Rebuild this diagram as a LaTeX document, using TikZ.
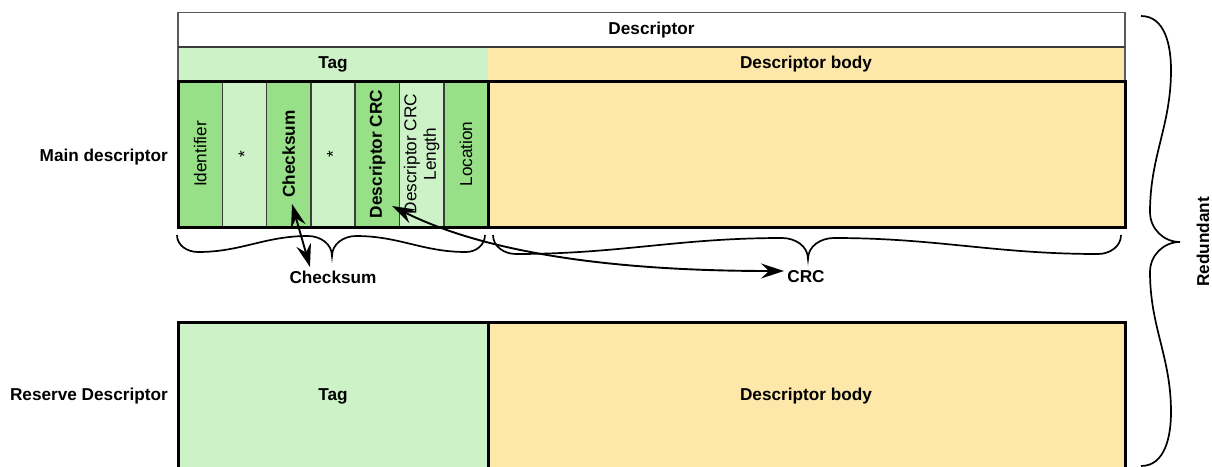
\documentclass[tikz,border=0pt]{standalone}
\usepackage{fontspec}
\setmainfont{Liberation Sans}
\usetikzlibrary{arrows.meta}

\definecolor{tagfill}{RGB}{205,242,200}
\definecolor{fieldfill}{RGB}{151,224,136}
\definecolor{bodyfill}{RGB}{253,232,170}
\definecolor{rule}{RGB}{60,60,60}

\tikzset{
  txt/.style={font=\fontsize{17.2}{19.5}\selectfont, inner sep=0pt, align=center},
  bold/.style={txt, font=\fontsize{17.2}{19.5}\selectfont\bfseries},
  cell/.style={draw=rule, line width=1.5pt, rotate=90, minimum width=146pt,
    minimum height=44.3pt, inner sep=0pt, align=center, anchor=center,
    font=\fontsize{17.2}{19.5}\selectfont},
  heavy/.style={draw=black, line width=3pt},
  curly/.style={draw=black, line width=1.7pt},
  link/.style={draw=black, line width=1.9pt,
    {Stealth[length=23pt,width=15pt,inset=8pt]}-{Stealth[length=23pt,width=15pt,inset=8pt]}}
}

\begin{document}
\begin{tikzpicture}[x=1pt,y=-1pt]
\useasboundingbox (0,0) rectangle (1212,466);

% header: title row and tag/body row
\fill[tagfill] (178,47) rectangle (488,81);
\fill[bodyfill] (488,47) rectangle (1125,81);
\draw[gray!70!black, line width=1.2pt] (178,81) -- (178,12.5) -- (1125,12.5) -- (1125,81);
\draw[rule, line width=1.5pt] (178,47) -- (1125,47);
\node[bold] (hdr) at (651.5,30) {Descriptor};
\node[bold] (hdrtag) at (333,64) {Tag};
\node[bold] (hdrbody) at (806,64) {Descriptor body};

% main descriptor: tag fields and body
\node[cell, fill=fieldfill] (f1) at (200.15,154) {Identifier};
\node[cell, fill=tagfill]   (f2) at (244.45,154) {*};
\node[cell, fill=fieldfill, font=\fontsize{17.2}{19.5}\selectfont\bfseries] (f3) at (288.75,154) {Checksum};
\node[cell, fill=tagfill]   (f4) at (333.05,154) {*};
\node[cell, fill=fieldfill, font=\fontsize{17.2}{19.5}\selectfont\bfseries] (f5) at (377.35,154) {Descriptor CRC};
\node[cell, fill=tagfill]   (f6) at (421.65,154) {Descriptor CRC\\Length};
\node[cell, fill=fieldfill] (f7) at (465.95,154) {Location};
\fill[bodyfill] (488,81) rectangle (1125,227);
\draw[heavy] (178,81) rectangle (1125,227);
\draw[heavy] (488,81) -- (488,227);
\node[bold, anchor=east] (mainlbl) at (168,157) {Main descriptor};

% reserve descriptor
\fill[tagfill] (178,322) rectangle (488,480);
\fill[bodyfill] (488,322) rectangle (1125,480);
\draw[heavy] (178,480) -- (178,322) -- (1125,322) -- (1125,480);
\draw[heavy] (488,322) -- (488,480);
\node[bold] (restag) at (333,396) {Tag};
\node[bold] (resbody) at (806,396) {Descriptor body};
\node[bold, anchor=east] (reslbl) at (168,396) {Reserve Descriptor};

% braces
\draw[curly] (177,235) to[out=-90,in=180] (198,252) to[out=0,in=180] (308,236)
  to[out=0,in=90] (332,256) to[out=90,in=180] (356,236) to[out=0,in=180] (466,252)
  to[out=0,in=-90] (485,235);
\draw[curly] (493,235) to[out=-90,in=180] (516,254) to[out=0,in=180] (782,238)
  to[out=0,in=90] (808,259) to[out=90,in=180] (834,238) to[out=0,in=180] (1098,254)
  to[out=0,in=-90] (1121,235);
\draw[curly] (1141,16) to[out=0,in=90] (1171,70) to[out=-90,in=90] (1150,212)
  to[out=-90,in=180] (1180,242) to[out=180,in=90] (1150,272) to[out=-90,in=90] (1171,412)
  to[out=-90,in=0] (1141,466);

% brace captions
\node[bold] (cklbl) at (333,277) {Checksum};
\node[bold] (crclbl) at (806,277) {CRC};
\node[bold, rotate=90] (redlbl) at (1203,242) {Redundant};

% links from fields to their coverage
\coordinate (ckfield) at (292,204);
\coordinate (ckcap) at (310,267);
\coordinate (crcfield) at (392,206);
\coordinate (crccap) at (784,271);
\draw[link] (ckfield) -- (ckcap);
\draw[link] (crcfield) .. controls (480,250) and (600,271) .. (crccap);
\end{tikzpicture}
\end{document}
